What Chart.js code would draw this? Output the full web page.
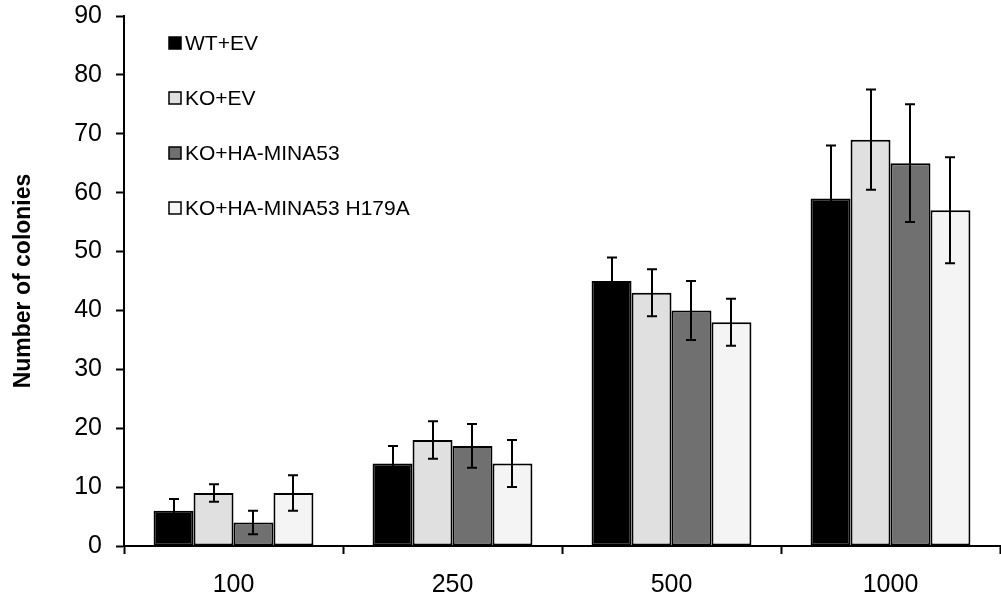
<!DOCTYPE html>
<html lang="en">
<head>
    <meta charset="UTF-8">
    <title>Number of colonies</title>
    <script src="https://cdn.jsdelivr.net/npm/chart.js"></script>
    <style>
        html, body { margin: 0; padding: 0; background: #fff; }
        #wrap { width: 1001px; height: 606px; }
    </style>
</head>
<body>
    <div id="wrap"><canvas id="chart"></canvas></div>
    <script>
        // Cells seeded per plate
        const categories = ['100', '250', '500', '1000'];
        const seriesNames = ['WT+EV', 'KO+EV', 'KO+HA-MINA53', 'KO+HA-MINA53 H179A'];
        const seriesColors = ['#000000', '#e0e0e0', '#707070', '#f4f4f4'];

        // Mean colony counts
        const wtEv = [6, 14, 45, 59];
        const koEv = [9, 18, 43, 69];
        const koHa = [4, 17, 40, 65];
        const koH179a = [9, 14, 38, 57];

        // Error bar half-widths
        const wtEvErr = [2, 3, 4, 9];
        const koEvErr = [1.5, 3.2, 4, 8.5];
        const koHaErr = [2, 3.7, 5, 10];
        const koH179aErr = [3, 4, 4, 9];

        const yTicks = [0, 10, 20, 30, 40, 50, 60, 70, 80, 90];

        const values = [wtEv, koEv, koHa, koH179a];
        const errors = [wtEvErr, koEvErr, koHaErr, koH179aErr];
        const FONT = '"Liberation Sans", Arial, sans-serif';

        // Draw error bars on top of the bars
        const errorBars = {
            id: 'errorBars',
            afterDatasetsDraw(chart) {
                const ctx = chart.ctx;
                const y = chart.scales.y;
                ctx.save();
                ctx.strokeStyle = '#000';
                ctx.lineWidth = 2;
                chart.data.datasets.forEach((ds, i) => {
                    const meta = chart.getDatasetMeta(i);
                    meta.data.forEach((bar, j) => {
                        const v = ds.data[j];
                        const e = errors[i][j];
                        const top = y.getPixelForValue(v + e);
                        const bot = y.getPixelForValue(v - e);
                        const x = Math.round(bar.x);
                        ctx.beginPath();
                        ctx.moveTo(x, top);
                        ctx.lineTo(x, bot);
                        ctx.moveTo(x - 5, top);
                        ctx.lineTo(x + 5, top);
                        ctx.moveTo(x - 5, bot);
                        ctx.lineTo(x + 5, bot);
                        ctx.stroke();
                    });
                });
                ctx.restore();
            }
        };

        // Vertical legend inside the plot, top left
        const insideLegend = {
            id: 'insideLegend',
            afterDraw(chart) {
                const ctx = chart.ctx;
                ctx.save();
                ctx.font = '21px ' + FONT;
                ctx.textBaseline = 'middle';
                chart.data.datasets.forEach((ds, i) => {
                    const cy = 43 + i * 55;
                    ctx.fillStyle = ds.backgroundColor;
                    ctx.fillRect(169, cy - 6, 12, 12);
                    ctx.strokeStyle = '#000';
                    ctx.lineWidth = 1.5;
                    ctx.strokeRect(169, cy - 6, 12, 12);
                    ctx.fillStyle = '#000';
                    ctx.fillText(ds.label, 185, cy + 1);
                });
                ctx.restore();
            }
        };

        new Chart(document.getElementById('chart'), {
            type: 'bar',
            data: {
                labels: categories,
                datasets: seriesNames.map((name, i) => ({
                    label: name,
                    data: values[i],
                    backgroundColor: seriesColors[i],
                    borderColor: '#000',
                    borderWidth: 2,
                    borderSkipped: false,
                    categoryPercentage: 0.73,
                    barPercentage: 1.0
                }))
            },
            options: {
                responsive: true,
                maintainAspectRatio: false,
                animation: false,
                layout: { padding: { top: 16, right: 1, bottom: 0, left: 0 } },
                plugins: {
                    legend: { display: false },
                    tooltip: { enabled: false }
                },
                scales: {
                    x: {
                        afterFit: s => { s.height = 60; s.paddingLeft = 0; s.paddingRight = 0; },
                        border: { display: true, color: '#000', width: 2 },
                        grid: {
                            display: true,
                            drawOnChartArea: false,
                            drawTicks: true,
                            tickLength: 8,
                            tickWidth: 2,
                            tickColor: '#000',
                            offset: true
                        },
                        ticks: {
                            color: '#000',
                            padding: 16,
                            font: { family: FONT, size: 25 }
                        }
                    },
                    y: {
                        min: 0,
                        max: 90,
                        afterFit: s => { s.width = 124; s.paddingTop = 0; s.paddingBottom = 0; },
                        afterBuildTicks: s => { s.ticks = yTicks.map(v => ({ value: v })); },
                        border: { display: true, color: '#000', width: 2 },
                        grid: {
                            display: true,
                            drawOnChartArea: false,
                            drawTicks: true,
                            tickLength: 8,
                            tickWidth: 2,
                            tickColor: '#000'
                        },
                        ticks: {
                            color: '#000',
                            padding: 14,
                            font: { family: FONT, size: 25 }
                        },
                        title: {
                            display: true,
                            text: 'Number of colonies',
                            color: '#000',
                            padding: { top: 10, bottom: 0 },
                            font: { family: FONT, size: 23, weight: 'bold' }
                        }
                    }
                }
            },
            plugins: [errorBars, insideLegend]
        });
    </script>
</body>
</html>
